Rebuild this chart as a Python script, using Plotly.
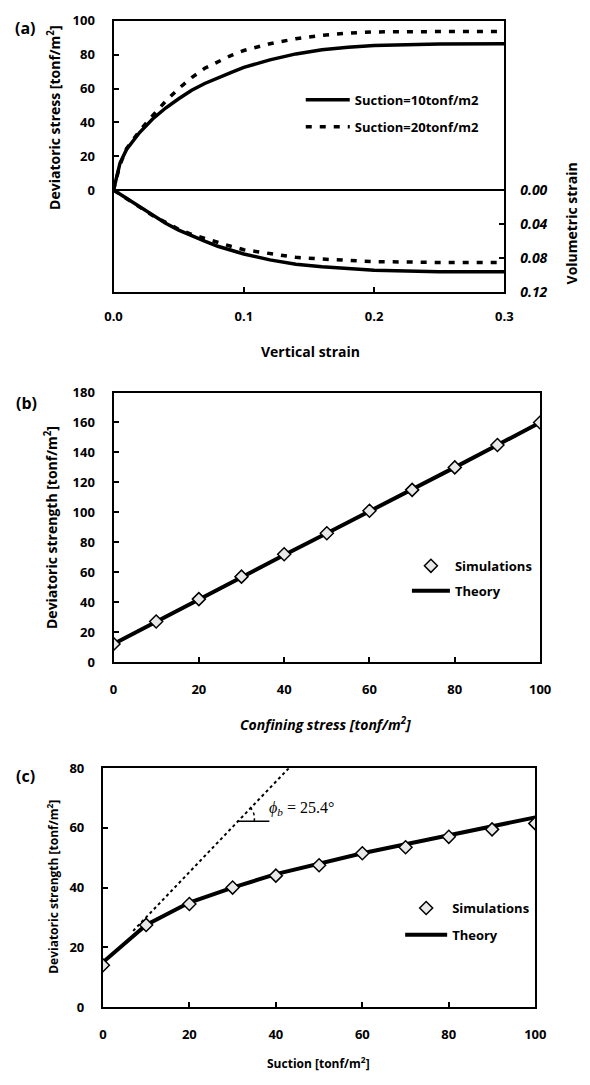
import plotly.graph_objects as go

# page is 590x1085; the browser body keeps an 8px margin, so the figure itself is 16px smaller
PAGE_W, PAGE_H = 590, 1085
OFF = 8
W, H = PAGE_W - 2 * OFF, PAGE_H - 2 * OFF

# ---------- Panel (a) data ----------
strain = [0, 0.005, 0.01, 0.02, 0.03, 0.04, 0.05, 0.06, 0.07, 0.08, 0.09, 0.10, 0.12, 0.14, 0.16, 0.18, 0.20, 0.25, 0.30]
dev_s10 = [0, 16, 24, 34, 42, 48.5, 54, 59, 63, 66.5, 69.5, 72.5, 77, 80.5, 83, 84.5, 85.5, 86.3, 86.5]
dev_s20 = [0, 15, 24.5, 35, 44, 52.5, 60, 66.5, 72, 76, 79.5, 82.5, 86.5, 89.5, 91.5, 92.8, 93.5, 93.7, 93.7]
vol_s10 = [0, 0.005, 0.010, 0.020, 0.030, 0.039, 0.047, 0.054, 0.060, 0.066, 0.071, 0.075, 0.082, 0.087, 0.090, 0.092, 0.094, 0.096, 0.096]
vol_s20 = [0, 0.005, 0.010, 0.020, 0.030, 0.038, 0.046, 0.052, 0.057, 0.062, 0.066, 0.070, 0.075, 0.079, 0.081, 0.083, 0.084, 0.085, 0.085]

# ---------- Panel (b) data ----------
confining = [0, 10, 20, 30, 40, 50, 60, 70, 80, 90, 100]
sim_b = [12, 27, 42, 57, 72, 86, 101, 115, 130, 145, 160]
theory_b = [12, 27, 42, 57, 71.5, 86, 100.5, 115, 130, 145, 160]

# ---------- Panel (c) data ----------
suction = [0, 10, 20, 30, 40, 50, 60, 70, 80, 90, 100]
sim_c = [14, 27.5, 34.5, 40, 44, 47.5, 51.5, 53.5, 57, 59.5, 61.5]
theory_c = [15, 27.5, 35, 40, 44.5, 48, 51.5, 54.5, 57.5, 60.5, 63.5]
tangent_x = [7, 43]
tangent_y = [25.5, 80]

FONT = "Open Sans"


def px_x(p):
    return (p - OFF) / W


def px_y(p):
    return 1 - (p - OFF) / H


# panel boxes in page pixels
A = dict(l=108, r=513, t=12, b=288)
B = dict(l=108, r=550, t=390, b=664)
C = dict(l=97, r=545, t=772, b=1015)

A_zero = 184
a_left_ppu = (A_zero - A["t"]) / 100.0
a_left_min = -(A["b"] - A_zero) / a_left_ppu
a_right_ppu = (A["b"] - A_zero) / 0.12
a_right_min = -(A_zero - A["t"]) / a_right_ppu

fig = go.Figure()

# (a)
fig.add_trace(go.Scatter(x=strain, y=dev_s10, mode="lines", name="Suction=10tonf/m2",
                         line=dict(color="black", width=3.5), xaxis="x", yaxis="y",
                         legend="legend", legendgroup="a1"))
fig.add_trace(go.Scatter(x=strain, y=dev_s20, mode="lines", name="Suction=20tonf/m2",
                         line=dict(color="black", width=3.5, dash="6px,8px"), xaxis="x", yaxis="y",
                         legend="legend", legendgroup="a2"))
fig.add_trace(go.Scatter(x=strain, y=vol_s10, mode="lines", showlegend=False,
                         line=dict(color="black", width=3.5), xaxis="x", yaxis="y2"))
fig.add_trace(go.Scatter(x=strain, y=vol_s20, mode="lines", showlegend=False,
                         line=dict(color="black", width=3.5, dash="6px,8px"), xaxis="x", yaxis="y2"))

# (b)
fig.add_trace(go.Scatter(x=confining, y=theory_b, mode="lines", name="Theory",
                         line=dict(color="black", width=4), xaxis="x3", yaxis="y3",
                         legend="legend2", legendgroup="b2", legendrank=2))
fig.add_trace(go.Scatter(x=confining, y=sim_b, mode="markers", name="Simulations",
                         marker=dict(symbol="diamond", size=10, color="#e8e8e8",
                                     line=dict(color="black", width=1.5)),
                         xaxis="x3", yaxis="y3", legend="legend2", legendgroup="b1", legendrank=1))

# (c)
fig.add_trace(go.Scatter(x=tangent_x, y=tangent_y, mode="lines", showlegend=False,
                         line=dict(color="black", width=2, dash="dot"), xaxis="x4", yaxis="y4"))
fig.add_trace(go.Scatter(x=suction, y=theory_c, mode="lines", name="Theory",
                         line=dict(color="black", width=4), xaxis="x4", yaxis="y4",
                         legend="legend3", legendgroup="c2", legendrank=2))
fig.add_trace(go.Scatter(x=suction, y=sim_c, mode="markers", name="Simulations",
                         marker=dict(symbol="diamond", size=10, color="#e8e8e8",
                                     line=dict(color="black", width=1.5)),
                         xaxis="x4", yaxis="y4", legend="legend3", legendgroup="c1", legendrank=1))

tick_font = dict(family=FONT, size=13, color="black", weight="bold")
axis_common = dict(showline=True, linecolor="black", linewidth=2, mirror=True,
                   ticks="inside", ticklen=5, tickcolor="black", tickwidth=1.5,
                   showgrid=False, zeroline=False, tickfont=tick_font)

legend_font = dict(family=FONT, size=13, color="black", weight="bold")

fig.update_layout(
    width=W, height=H, margin=dict(l=0, r=0, t=0, b=0),
    paper_bgcolor="white", plot_bgcolor="white",
    font=dict(family=FONT, color="black"),
    xaxis=dict(axis_common, domain=[px_x(A["l"]), px_x(A["r"])], anchor="y", range=[0, 0.3],
               tickvals=[0, 0.1, 0.2, 0.3], ticktext=["0.0", "0.1", "0.2", "0.3"],
               ticklabelstandoff=11),
    yaxis=dict(axis_common, domain=[px_y(A["b"]), px_y(A["t"])], anchor="x",
               range=[a_left_min, 100],
               tickvals=[0, 20, 40, 60, 80, 100], zeroline=True, zerolinecolor="black",
               zerolinewidth=1.5, mirror=False, ticklabelstandoff=14),
    yaxis2=dict(axis_common, overlaying="y", side="right", anchor="x",
                range=[0.12, a_right_min],
                tickvals=[0, 0.04, 0.08, 0.12], ticktext=["0.00", "0.04", "0.08", "0.12"],
                mirror=False, ticklabelstandoff=11,
                tickfont=dict(tick_font, size=14, style="italic")),
    xaxis3=dict(axis_common, domain=[px_x(B["l"]), px_x(B["r"])], anchor="y3", range=[0, 100],
                dtick=20, ticklabelstandoff=14),
    yaxis3=dict(axis_common, domain=[px_y(B["b"]), px_y(B["t"])], anchor="x3", range=[0, 180],
                dtick=20, ticklabelstandoff=14),
    xaxis4=dict(axis_common, domain=[px_x(C["l"]), px_x(C["r"])], anchor="y4", range=[0, 100],
                dtick=20, ticklabelstandoff=14),
    yaxis4=dict(axis_common, domain=[px_y(C["b"]), px_y(C["t"])], anchor="x4", range=[0, 80],
                dtick=20, ticklabelstandoff=14),
    legend=dict(x=px_x(302), y=px_y(106), xanchor="left", yanchor="middle",
                bgcolor="rgba(0,0,0,0)", font=legend_font, itemwidth=44, tracegroupgap=7),
    legend2=dict(x=px_x(412), y=px_y(579), xanchor="left", yanchor="middle",
                 bgcolor="rgba(0,0,0,0)", font=legend_font, itemwidth=38, tracegroupgap=5),
    legend3=dict(x=px_x(405), y=px_y(928), xanchor="left", yanchor="middle",
                 bgcolor="rgba(0,0,0,0)", font=legend_font, itemwidth=42, tracegroupgap=7),
)

title_font = dict(family=FONT, size=13, color="black", weight="bold")
ann = [
    dict(text="(a)", x=px_x(4), y=px_y(19), xanchor="left", yanchor="middle", font=dict(title_font, size=16)),
    dict(text="(b)", x=px_x(5), y=px_y(401), xanchor="left", yanchor="middle", font=dict(title_font, size=16)),
    dict(text="(c)", x=px_x(5), y=px_y(780), xanchor="left", yanchor="middle", font=dict(title_font, size=16)),
    dict(text="Deviatoric stress [tonf/m<sup>2</sup>]", x=px_x(47), y=px_y(110), textangle=-90,
         xanchor="center", yanchor="middle", font=dict(title_font, size=14)),
    dict(text="Volumetric strain", x=px_x(582), y=px_y(218), textangle=-90,
         xanchor="center", yanchor="middle", font=dict(title_font, size=14)),
    dict(text="Vertical strain", x=px_x(312), y=px_y(348), xanchor="center", yanchor="middle",
         font=dict(title_font, size=14)),
    dict(text="Deviatoric strength [tonf/m<sup>2</sup>]", x=px_x(44), y=px_y(527), textangle=-90,
         xanchor="center", yanchor="middle", font=dict(title_font, size=14)),
    dict(text="Confining stress [tonf/m<sup>2</sup>]", x=px_x(328), y=px_y(727), xanchor="center",
         yanchor="middle", font=dict(title_font, size=14, style="italic")),
    dict(text="Deviatoric strength [tonf/m<sup>2</sup>]", x=px_x(45), y=px_y(893), textangle=-90,
         xanchor="center", yanchor="middle", font=dict(title_font, size=12)),
    dict(text="Suction [tonf/m<sup>2</sup>]", x=px_x(320), y=px_y(1072), xanchor="center",
         yanchor="middle", font=dict(title_font, size=12)),
    dict(text="<i>ϕ<sub>b</sub></i> = 25.4°", x=38, y=66.5, xref="x4", yref="y4", xanchor="left",
         yanchor="middle", font=dict(family="Liberation Serif", size=16, color="black")),
]
for a in ann:
    a.setdefault("xref", "paper")
    a.setdefault("yref", "paper")
    a["showarrow"] = False
fig.update_layout(annotations=ann)

# angle marker in (c)
fig.add_shape(type="line", xref="x4", yref="y4", x0=31, y0=62.2, x1=38.5, y1=62.2,
              line=dict(color="black", width=1.5))
fig.add_shape(type="path", xref="x4", yref="y4",
              path="M 35,62.2 Q 35.3,65.5 33.6,67.5", line=dict(color="black", width=1.5, dash="dot"))

fig.write_html("out.html", config={"displayModeBar": False})
